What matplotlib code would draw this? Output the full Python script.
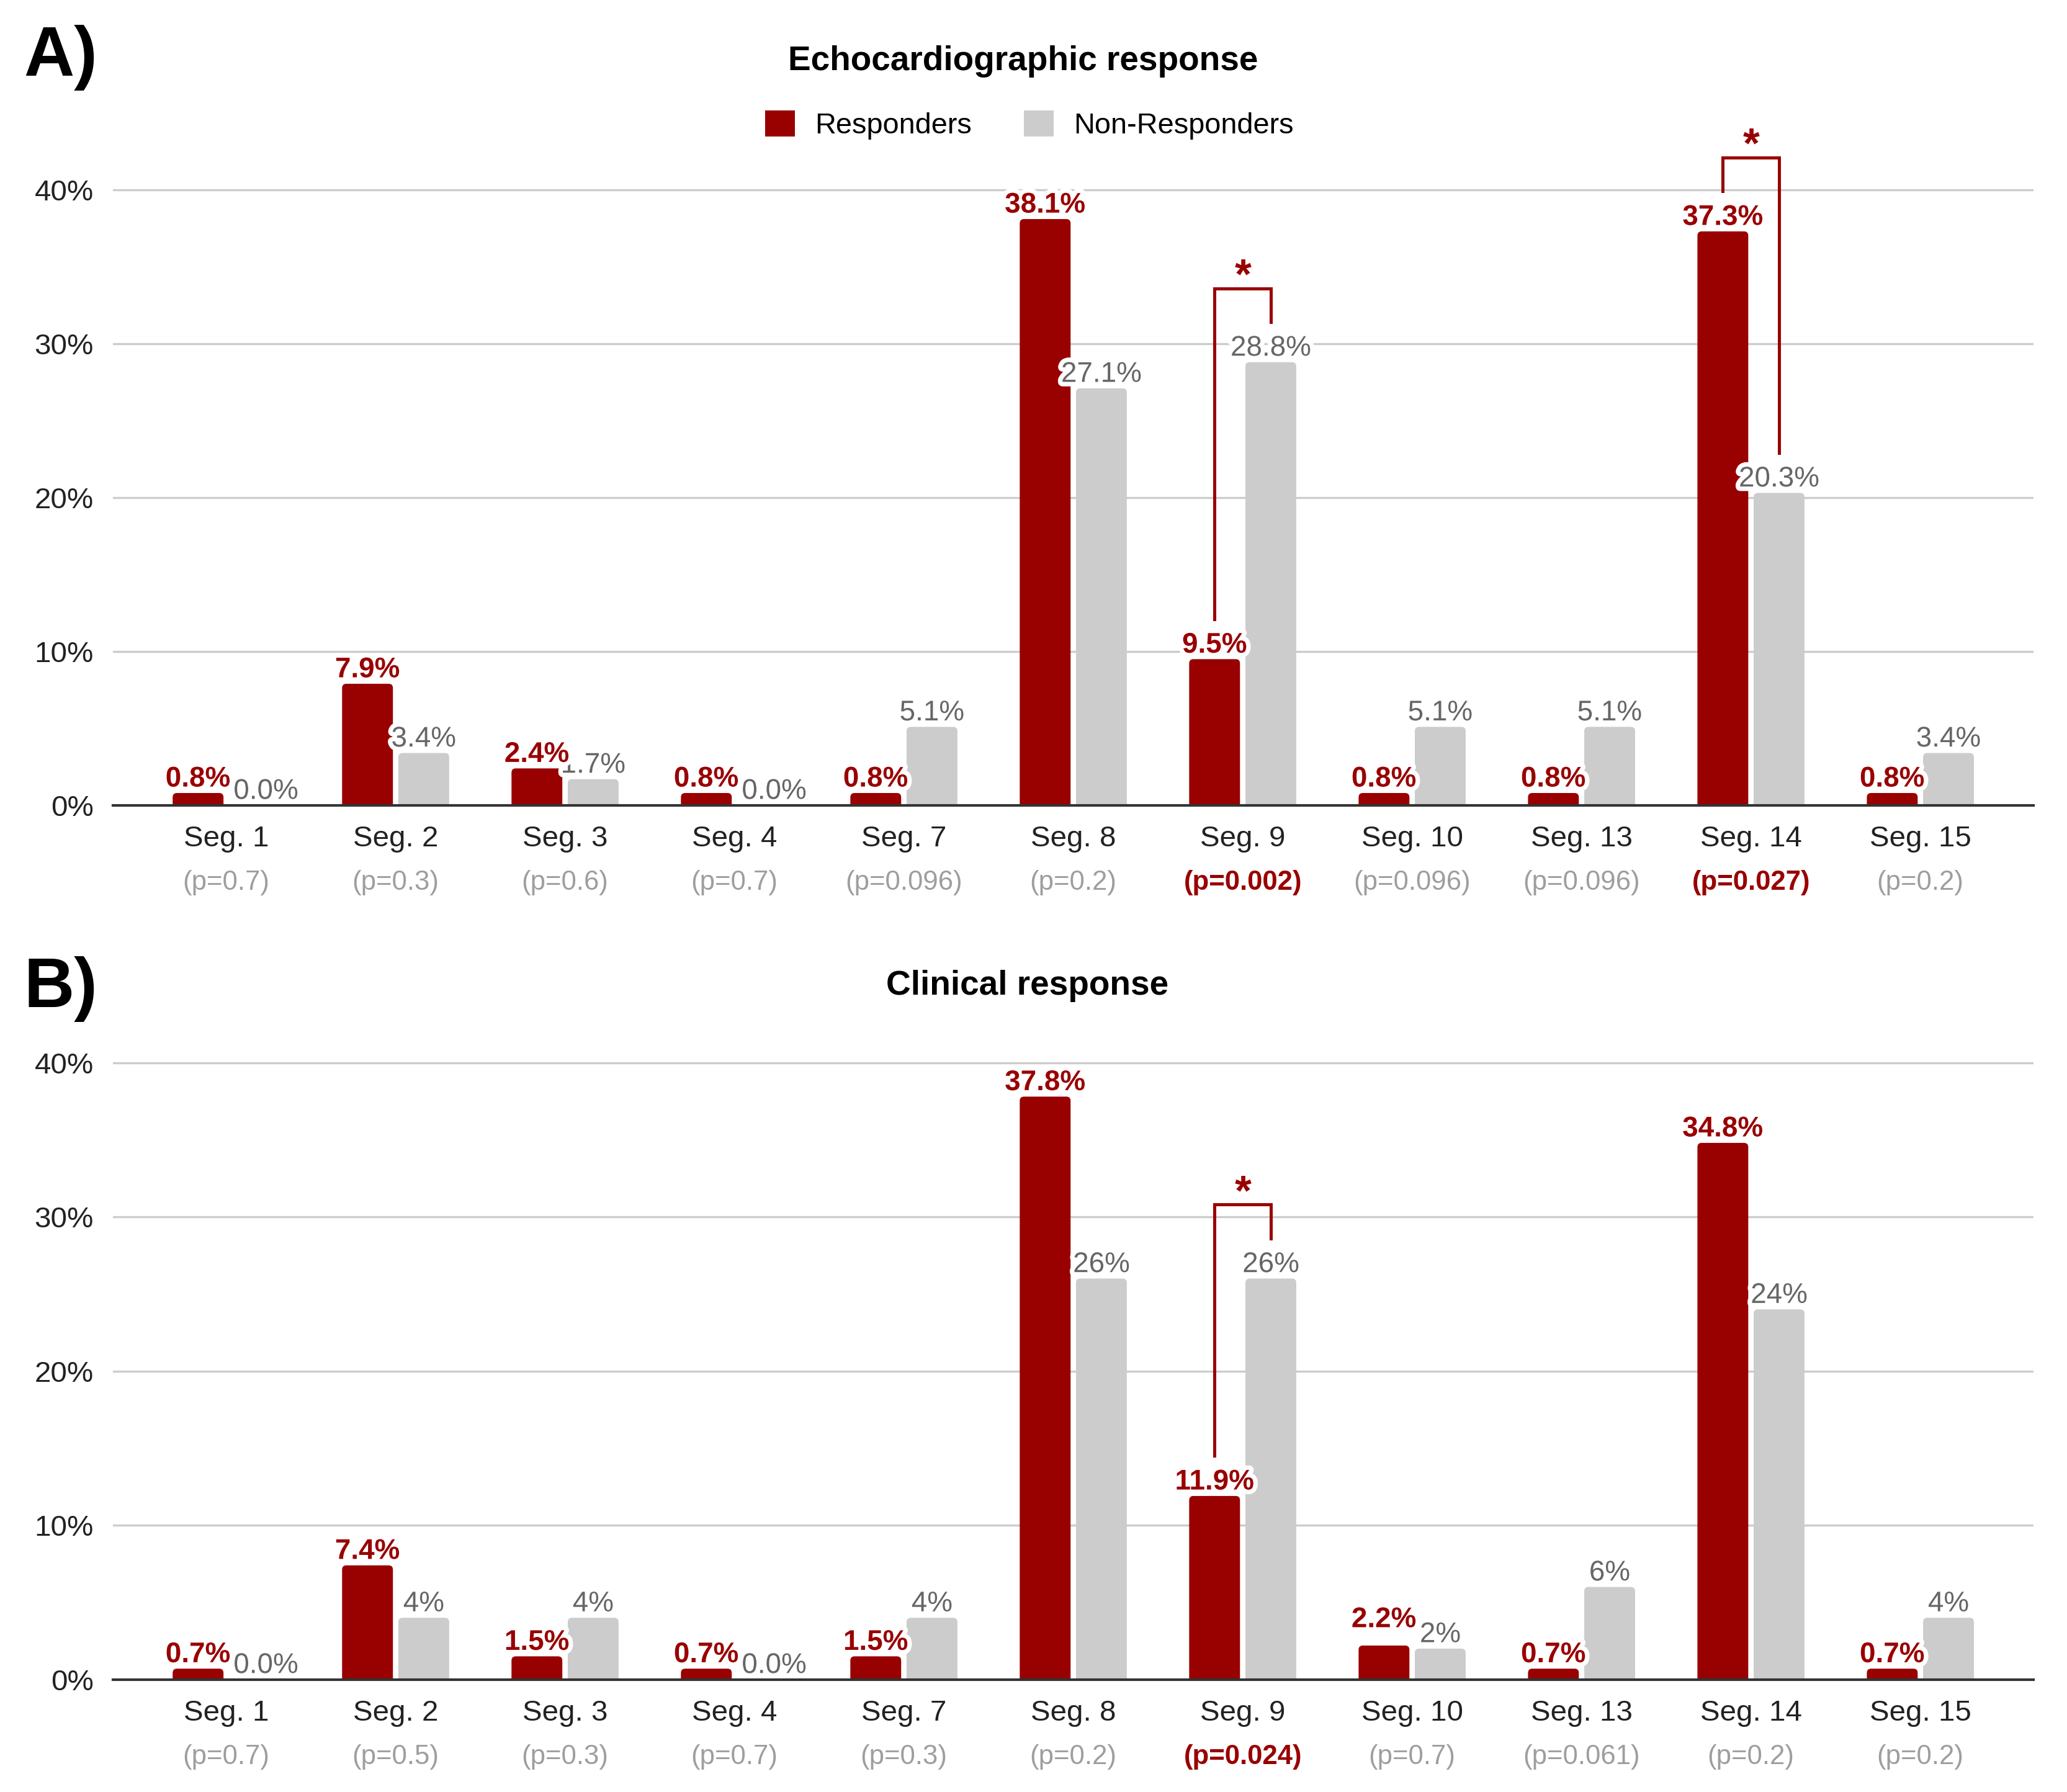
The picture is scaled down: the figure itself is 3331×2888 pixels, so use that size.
import matplotlib.pyplot as plt
import matplotlib.patheffects as pe
import numpy as np
from matplotlib.patches import FancyBboxPatch, Patch

plt.rcParams["font.family"] = ["Liberation Sans", "DejaVu Sans"]

RED = "#990000"
GREY = "#cccccc"
GREY_TEXT = "#666666"
P_TEXT = "#9e9e9e"
GRID = "#cccccc"

BAR_W = 0.30
OFFSET = 0.166  # half distance between the two bars of a group
CORNER_X = 0.025  # rounding of the bar tops, x data units
CORNER_ASPECT = 11.0  # y/x scale so the corners look round
SIG_LEVEL = 0.05

SEGMENTS = ["Seg. 1", "Seg. 2", "Seg. 3", "Seg. 4", "Seg. 7", "Seg. 8",
            "Seg. 9", "Seg. 10", "Seg. 13", "Seg. 14", "Seg. 15"]

# A) Echocardiographic response (%)
ECHO_RESPONDERS = [0.8, 7.9, 2.4, 0.8, 0.8, 38.1, 9.5, 0.8, 0.8, 37.3, 0.8]
ECHO_NON_RESPONDERS = [0.0, 3.4, 1.7, 0.0, 5.1, 27.1, 28.8, 5.1, 5.1, 20.3, 3.4]
ECHO_P = [0.7, 0.3, 0.6, 0.7, 0.096, 0.2, 0.002, 0.096, 0.096, 0.027, 0.2]

# B) Clinical response (%)
CLIN_RESPONDERS = [0.7, 7.4, 1.5, 0.7, 1.5, 37.8, 11.9, 2.2, 0.7, 34.8, 0.7]
CLIN_NON_RESPONDERS = [0.0, 4, 4, 0.0, 4, 26, 26, 2, 6, 24, 4]
CLIN_P = [0.7, 0.5, 0.3, 0.7, 0.3, 0.2, 0.024, 0.7, 0.061, 0.2, 0.2]

HALO = [pe.withStroke(linewidth=3.5, foreground="white")]


def pct_1(v):
    return f"{v:.1f}%"


def pct_int(v):
    # the chart tool printed whole numbers without decimals, zeros as 0.0%
    return "0.0%" if v == 0 else f"{v:.0f}%"


def round_tops(ax, bars):
    """Swap the plain bar rectangles for ones with rounded top corners."""
    for rect in bars:
        x, y = rect.get_xy()
        w, h = rect.get_width(), rect.get_height()
        if h <= 0:
            rect.remove()
            continue
        # start below the axis so the bottom rounding is clipped away
        patch = FancyBboxPatch((x, y - 1), w, h + 1,
                               boxstyle=f"round,pad=0,rounding_size={CORNER_X}",
                               mutation_aspect=CORNER_ASPECT,
                               facecolor=rect.get_facecolor(), edgecolor="none",
                               zorder=3)
        rect.remove()
        ax.add_patch(patch)


def draw_panel(ax, resp, non_resp, pvals, nr_fmt, red_lift=None):
    red_lift = red_lift or {}
    x = np.arange(len(SEGMENTS))
    round_tops(ax, ax.bar(x - OFFSET, resp, BAR_W, color=RED, zorder=3))
    round_tops(ax, ax.bar(x + OFFSET, non_resp, BAR_W, color=GREY, zorder=3))

    ax.set_xlim(-0.669, len(SEGMENTS) - 1 + 0.669)
    ax.set_ylim(0, 45)
    ax.set_yticks([0, 10, 20, 30, 40])
    ax.yaxis.set_major_formatter(lambda v, _: f"{v:.0f}%")
    ax.set_xticks(x, SEGMENTS)
    ax.grid(axis="y", color=GRID, lw=0.8, zorder=0)
    ax.grid(axis="x", visible=False)
    for side in ("top", "right", "left"):
        ax.spines[side].set_visible(False)
    ax.spines["bottom"].set_color("#333333")
    ax.spines["bottom"].set_linewidth(1.0)
    ax.spines["bottom"].set_zorder(4)
    ax.tick_params(axis="both", length=0, labelsize=11.4, colors="#222222")
    ax.tick_params(axis="x", pad=7.8)
    ax.tick_params(axis="y", pad=7.4)

    for i, (r, g) in enumerate(zip(resp, non_resp)):
        ax.annotate(pct_1(r), (i - OFFSET, r), xytext=(0, 2.5 + red_lift.get(i, 0)),
                    textcoords="offset points", ha="center", va="baseline",
                    color=RED, fontsize=11, fontweight="bold",
                    path_effects=HALO, zorder=6)
        dx = 4.5 if g == 0 else 0
        ax.annotate(nr_fmt(g), (i + OFFSET, g), xytext=(dx, 2.5),
                    textcoords="offset points", ha="center", va="baseline",
                    color=GREY_TEXT, fontsize=11, path_effects=HALO, zorder=5)

    for i, p in enumerate(pvals):
        sig = p < SIG_LEVEL
        ax.annotate(f"(p={p})", (i, 0), xycoords=ax.get_xaxis_transform(),
                    xytext=(0, -30), textcoords="offset points",
                    ha="center", va="center", fontsize=10.5,
                    color=RED if sig else P_TEXT,
                    fontweight="bold" if sig else "normal",
                    annotation_clip=False)
        if not sig:
            continue
        lo_r = resp[i] + 2.6
        lo_g = non_resp[i] + 2.6
        top = max(lo_r, lo_g) + 2.2
        ax.plot([i - OFFSET, i - OFFSET, i + OFFSET, i + OFFSET],
                [lo_r, top, top, lo_g], color=RED, lw=1.2,
                solid_joinstyle="miter", zorder=4, clip_on=False)
        ax.text(i, top, "*", ha="center", va="baseline", fontsize=16.5,
                fontweight="bold", color=RED, zorder=6)


fig = plt.figure(figsize=(3331 / 300, 2888 / 300), dpi=300)

ax_a = fig.add_axes([0.0546, 0.5506, 0.9293, 0.3864])
draw_panel(ax_a, ECHO_RESPONDERS, ECHO_NON_RESPONDERS, ECHO_P, pct_1)

ax_b = fig.add_axes([0.0546, 0.0628, 0.9293, 0.3872])
draw_panel(ax_b, CLIN_RESPONDERS, CLIN_NON_RESPONDERS, CLIN_P, pct_int,
           red_lift={7: 4.6})

fig.text(0.0116, 0.9579, "A)", fontsize=27, fontweight="bold", va="baseline")
fig.text(0.0116, 0.4380, "B)", fontsize=27, fontweight="bold", va="baseline")
fig.text(0.495, 0.9609, "Echocardiographic response", fontsize=13.2,
         fontweight="bold", ha="center", va="baseline")
fig.text(0.497, 0.4448, "Clinical response", fontsize=13.2,
         fontweight="bold", ha="center", va="baseline")

handles = [Patch(facecolor=RED, label="Responders"),
           Patch(facecolor=GREY, label="Non-Responders")]
fig.legend(handles=handles, loc="center", bbox_to_anchor=(0.498, 0.9303),
           ncol=2, frameon=False, fontsize=11.25, handlelength=1.02,
           handleheight=1.02, handletextpad=0.69, columnspacing=1.79,
           borderpad=0, borderaxespad=0)

fig.savefig("out.png", dpi=300)
